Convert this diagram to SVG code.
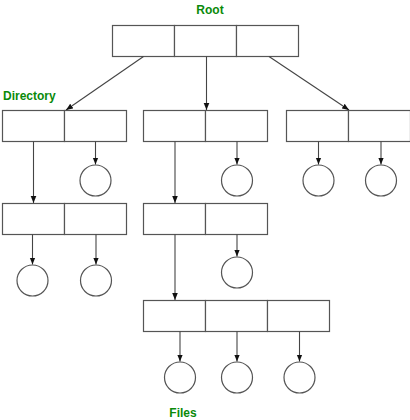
<svg xmlns="http://www.w3.org/2000/svg" width="410" height="420" viewBox="0 0 410 420">
<defs>
<style>
.cell{fill:#fff;stroke:#555;stroke-width:1.2}
.file{fill:#fff;stroke:#555;stroke-width:1.2}
.lbl{font-family:"Liberation Sans",Arial,sans-serif;font-size:12px;font-weight:bold;fill:#0a8a0a}
.edge{stroke:#444;stroke-width:1.1;fill:none;marker-end:url(#ah)}
</style>
<marker id="ah" viewBox="0 0 10 10" refX="10" refY="5" markerWidth="7" markerHeight="7" markerUnits="userSpaceOnUse" orient="auto">
<path d="M0,1 L10,5 L0,9 z" fill="#111"/>
</marker>
</defs>
<rect width="410" height="420" fill="#fff"/>
<g id="root">
<rect class="cell" x="112.5" y="25.5" width="62" height="31"/>
<rect class="cell" x="174.5" y="25.5" width="62" height="31"/>
<rect class="cell" x="236.5" y="25.5" width="62" height="31"/>
<text class="lbl" x="210" y="14" text-anchor="middle">Root</text>
</g>
<g id="dir-left">
<rect class="cell" x="2.5" y="110.5" width="62" height="31"/>
<rect class="cell" x="64.5" y="110.5" width="62" height="31"/>
<text class="lbl" x="3" y="100">Directory</text>
</g>
<g id="dir-mid">
<rect class="cell" x="143.5" y="110.5" width="62" height="31"/>
<rect class="cell" x="205.5" y="110.5" width="62" height="31"/>
</g>
<g id="dir-right">
<rect class="cell" x="286.5" y="110.5" width="62" height="31"/>
<rect class="cell" x="348.5" y="110.5" width="62" height="31"/>
</g>
<g id="dir-left2">
<rect class="cell" x="2.5" y="203.5" width="62" height="31"/>
<rect class="cell" x="64.5" y="203.5" width="62" height="31"/>
</g>
<g id="dir-mid2">
<rect class="cell" x="143.5" y="203.5" width="62" height="31"/>
<rect class="cell" x="205.5" y="203.5" width="62" height="31"/>
</g>
<g id="dir-files">
<rect class="cell" x="143.5" y="300.5" width="62" height="31"/>
<rect class="cell" x="205.5" y="300.5" width="62" height="31"/>
<rect class="cell" x="267.5" y="300.5" width="62" height="31"/>
<text class="lbl" x="183" y="417" text-anchor="middle">Files</text>
</g>
<g id="files">
<circle class="file" cx="95.5" cy="180.5" r="15.5"/>
<circle class="file" cx="237" cy="180.5" r="15.5"/>
<circle class="file" cx="318.5" cy="180.5" r="15.5"/>
<circle class="file" cx="381" cy="180.5" r="15.5"/>
<circle class="file" cx="32.5" cy="280.5" r="15.5"/>
<circle class="file" cx="96" cy="280.5" r="15.5"/>
<circle class="file" cx="237" cy="272.5" r="15.5"/>
<circle class="file" cx="180" cy="377.5" r="15.5"/>
<circle class="file" cx="237" cy="377.5" r="15.5"/>
<circle class="file" cx="299.5" cy="377.5" r="15.5"/>
</g>
<g id="connectors">
<line class="edge" x1="143.5" y1="56.5" x2="66" y2="110"/>
<line class="edge" x1="206.5" y1="56.5" x2="206.5" y2="110"/>
<line class="edge" x1="269" y1="56.5" x2="349" y2="110"/>
<line class="edge" x1="33.5" y1="141.5" x2="33.5" y2="203"/>
<line class="edge" x1="95.5" y1="141.5" x2="95.5" y2="164.5"/>
<line class="edge" x1="175" y1="141.5" x2="175" y2="203"/>
<line class="edge" x1="237" y1="141.5" x2="237" y2="164.5"/>
<line class="edge" x1="318.5" y1="141.5" x2="318.5" y2="164.5"/>
<line class="edge" x1="381" y1="141.5" x2="381" y2="164.5"/>
<line class="edge" x1="32.5" y1="234.5" x2="32.5" y2="264.5"/>
<line class="edge" x1="96" y1="234.5" x2="96" y2="264.5"/>
<line class="edge" x1="237" y1="234.5" x2="237" y2="256.5"/>
<line class="edge" x1="175" y1="234.5" x2="175" y2="300"/>
<line class="edge" x1="180" y1="331.5" x2="180" y2="361.5"/>
<line class="edge" x1="237" y1="331.5" x2="237" y2="361.5"/>
<line class="edge" x1="299.5" y1="331.5" x2="299.5" y2="361.5"/>
</g>
</svg>
